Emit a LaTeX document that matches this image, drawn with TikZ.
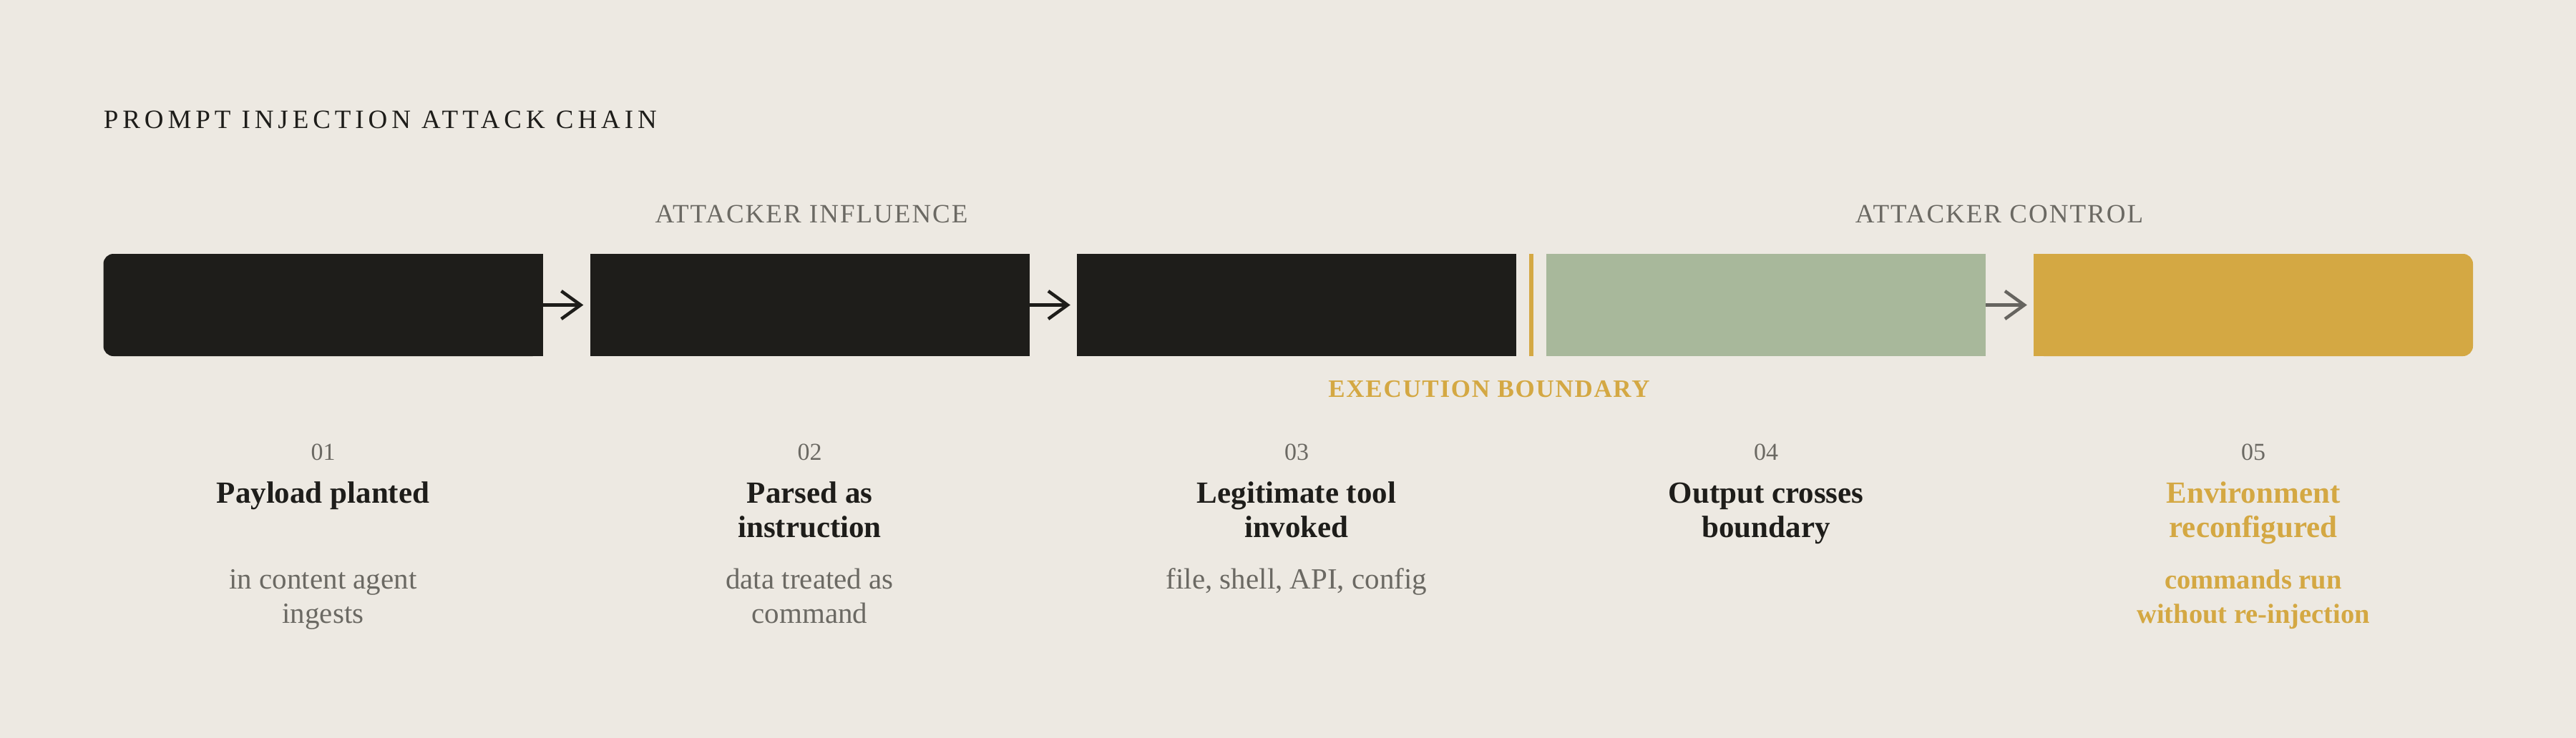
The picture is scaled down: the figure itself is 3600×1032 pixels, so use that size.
\documentclass[tikz,border=0pt]{standalone}
\usepackage{fontspec}
\setmainfont{Liberation Serif}
\usetikzlibrary{arrows.meta}
\definecolor{bg}{HTML}{EDE9E2}
\definecolor{dark}{HTML}{1E1D1A}
\definecolor{sage}{HTML}{A8B89B}
\definecolor{gold}{HTML}{D4A843}
\definecolor{graytxt}{HTML}{6B6963}
\definecolor{grayarrow}{HTML}{66645F}
\begin{document}
\begin{tikzpicture}[x=1pt,y=-1pt,
  stepbox/.style={rectangle, inner sep=0pt, minimum width=614pt, minimum height=143pt},
  txt/.style={inner sep=0pt, anchor=base},
  flowarrow/.style={line width=4.5pt, -{Straight Barb[length=27pt,width=39pt,line width=4.5pt]}},
  titlefont/.style={font=\fontsize{37}{44}\selectfont\addfontfeatures{LetterSpace=16}, text=dark},
  zonefont/.style={font=\fontsize{37}{44}\selectfont\addfontfeatures{LetterSpace=5.4}, text=graytxt},
  boundfont/.style={font=\fontsize{35}{42}\selectfont\bfseries\addfontfeatures{LetterSpace=4.9}, text=gold},
  numfont/.style={font=\fontsize{34}{38}\selectfont, text=graytxt},
  headfont/.style={font=\fontsize{43}{48}\selectfont\bfseries, text=dark},
  descfont/.style={font=\fontsize{41}{48}\selectfont, text=graytxt},
  goldhead/.style={font=\fontsize{43}{48}\selectfont\bfseries, text=gold},
  golddesc/.style={font=\fontsize{38.5}{48}\selectfont\bfseries, text=gold}
]
\fill[bg] (0,0) rectangle (3600,1032);
\useasboundingbox (0,0) rectangle (3600,1032);

% title
\node[txt, anchor=base west, titlefont] (title) at (144.6,180) {PROMPT INJECTION ATTACK CHAIN};
\node[txt, zonefont] (influence) at (1134,311.7) {ATTACKER INFLUENCE};
\node[txt, zonefont] (control) at (2794,311.7) {ATTACKER CONTROL};

% boxes
\node[stepbox, fill=dark, rounded corners=14pt] (b1) at (451.5,426.5) {};
\fill[dark] (b1.north) rectangle (b1.south east);
\node[stepbox, fill=dark] (b2) at (1131.5,426.5) {};
\node[stepbox, fill=dark] (b3) at (1812,426.5) {};
\node[stepbox, fill=sage] (b4) at (2468,426.5) {};
\node[stepbox, fill=gold, rounded corners=14pt] (b5) at (3149,426.5) {};
\fill[gold] (b5.north west) rectangle (b5.south);

% boundary line
\coordinate (bt) at (2140,355);
\coordinate (bb) at (2140,498);
\draw[gold, line width=6pt] (bt) -- (bb);

% arrows
\draw[flowarrow, dark] (b1.east) -- ([xshift=-9pt]b2.west);
\draw[flowarrow, dark] (b2.east) -- ([xshift=-9pt]b3.west);
\draw[flowarrow, grayarrow] (b4.east) -- ([xshift=-9pt]b5.west);

\node[txt, boundfont] (boundary) at (2081,555) {EXECUTION BOUNDARY};

% numbers
\node[txt, numfont] (n1) at (451.5,643.3) {01};
\node[txt, numfont] (n2) at (1131.5,643.3) {02};
\node[txt, numfont] (n3) at (1812,643.3) {03};
\node[txt, numfont] (n4) at (2468,643.3) {04};
\node[txt, numfont] (n5) at (3149,643.3) {05};

% headings
\node[txt, headfont] (h1) at (451.5,703.3) {Payload planted};
\node[txt, headfont] (h2a) at (1131.5,703.3) {Parsed as};
\node[txt, headfont] (h2b) at (1131.5,751.7) {instruction};
\node[txt, headfont] (h3a) at (1812,703.3) {Legitimate tool};
\node[txt, headfont] (h3b) at (1812,751.7) {invoked};
\node[txt, headfont] (h4a) at (2468,703.3) {Output crosses};
\node[txt, headfont] (h4b) at (2468,751.7) {boundary};
\node[txt, goldhead] (h5a) at (3149,703.3) {Environment};
\node[txt, goldhead] (h5b) at (3149,751.7) {reconfigured};

% descriptions
\node[txt, descfont] (d1a) at (451.5,823.3) {in content agent};
\node[txt, descfont] (d1b) at (451.5,871.7) {ingests};
\node[txt, descfont] (d2a) at (1131.5,823.3) {data treated as};
\node[txt, descfont] (d2b) at (1131.5,871.7) {command};
\node[txt, descfont] (d3) at (1812,823.3) {file, shell, API, config};
\node[txt, golddesc] (d5a) at (3149,823.3) {commands run};
\node[txt, golddesc] (d5b) at (3149,871.7) {without re-injection};
\end{tikzpicture}
\end{document}
